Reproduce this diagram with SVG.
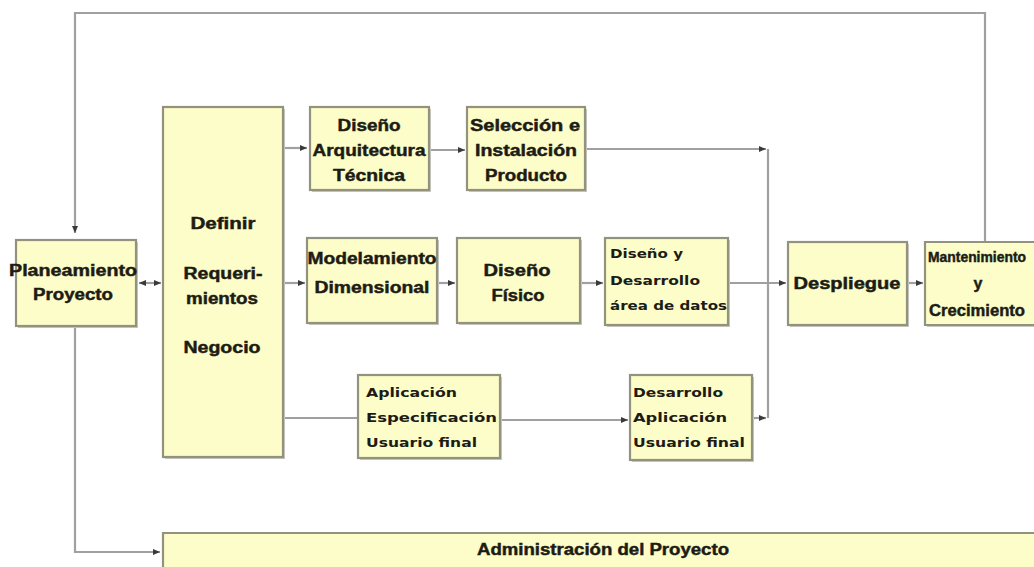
<svg xmlns="http://www.w3.org/2000/svg" width="1034" height="567" viewBox="0 0 1034 567">
  <defs>
    <marker id="arrow" viewBox="0 0 7 7" refX="7" refY="3.5" markerWidth="7" markerHeight="7" markerUnits="userSpaceOnUse" orient="auto-start-reverse">
      <path d="M0,0.5 L7,3.5 L0,6.5 z" fill="#3a3a3a"/>
    </marker>
  </defs>
  <style>
    .box { fill: #fdfdc9; stroke: #92927f; stroke-width: 2.2; }
    .fill { fill: #fdfdc9; }
    .edge { fill: none; stroke: #92927f; stroke-width: 2.2; }
    .shadow { fill: #c9c9c2; }
    .link { fill: none; stroke: #a0a0a0; stroke-width: 2.2; }
    .t { font-family: "Liberation Sans", Arial, sans-serif; font-weight: bold; font-size: 16px; fill: #1c1c14; stroke: #1c1c14; stroke-width: 0.45; text-anchor: middle; }
    .t.narrow { font-size: 14px; }
    .m { font-family: "DejaVu Sans", "Liberation Sans", sans-serif; font-weight: bold; font-size: 13px; fill: #1c1c14; }
  </style>
  <rect width="1034" height="567" fill="#ffffff"/>

  <!-- connectors -->
  <g id="connectors">
    <path class="link" d="M985,242 V13 H75 V233" marker-end="url(#arrow)"/>
    <path class="link" d="M75,326 V552 H160" marker-end="url(#arrow)"/>
    <path class="link" d="M139,283 H161" marker-start="url(#arrow)" marker-end="url(#arrow)"/>
    <path class="link" d="M284,148 H307" marker-end="url(#arrow)"/>
    <path class="link" d="M284,283 H305" marker-end="url(#arrow)"/>
    <path class="link" d="M284,418 H358"/>
    <path class="link" d="M430,150 H465" marker-end="url(#arrow)"/>
    <path class="link" d="M586,149 H766" marker-end="url(#arrow)"/>
    <path class="link" d="M768,149 V418"/>
    <path class="link" d="M438,283 H455" marker-end="url(#arrow)"/>
    <path class="link" d="M581,283 H603" marker-end="url(#arrow)"/>
    <path class="link" d="M729,283 H786" marker-end="url(#arrow)"/>
    <path class="link" d="M501,420 H628" marker-end="url(#arrow)"/>
    <path class="link" d="M753,418 H766" marker-end="url(#arrow)"/>
    <path class="link" d="M908,283 H923" marker-end="url(#arrow)"/>
  </g>

  <g id="planeamiento">
    <rect class="shadow" x="18" y="242" width="120" height="86"/>
    <rect class="box" x="16" y="240" width="120" height="86"/>
    <text class="t" x="73" y="276" textLength="128" lengthAdjust="spacingAndGlyphs">Planeamiento</text>
    <text class="t" x="73" y="300" textLength="80" lengthAdjust="spacingAndGlyphs">Proyecto</text>
  </g>

  <g id="definir">
    <rect class="shadow" x="165" y="109" width="120" height="350"/>
    <rect class="box" x="163" y="107" width="120" height="350"/>
    <text class="t" x="223" y="229" textLength="65" lengthAdjust="spacingAndGlyphs">Definir</text>
    <text class="t" x="223" y="279" textLength="79" lengthAdjust="spacingAndGlyphs">Requeri-</text>
    <text class="t" x="222" y="304" textLength="72" lengthAdjust="spacingAndGlyphs">mientos</text>
    <text class="t" x="222" y="353" textLength="77" lengthAdjust="spacingAndGlyphs">Negocio</text>
  </g>

  <g id="diseno-arquitectura">
    <rect class="shadow" x="312" y="109" width="119" height="83"/>
    <rect class="box" x="310" y="107" width="119" height="83"/>
    <text class="t" x="369" y="131" textLength="63" lengthAdjust="spacingAndGlyphs">Diseño</text>
    <text class="t" x="369" y="156" textLength="113" lengthAdjust="spacingAndGlyphs">Arquitectura</text>
    <text class="t" x="369" y="181" textLength="72" lengthAdjust="spacingAndGlyphs">Técnica</text>
  </g>

  <g id="seleccion">
    <rect class="shadow" x="469" y="109" width="118" height="83"/>
    <rect class="box" x="467" y="107" width="118" height="83"/>
    <text class="t" x="525" y="131" textLength="110" lengthAdjust="spacingAndGlyphs">Selección e</text>
    <text class="t" x="526" y="156" textLength="102" lengthAdjust="spacingAndGlyphs">Instalación</text>
    <text class="t" x="526" y="181" textLength="82" lengthAdjust="spacingAndGlyphs">Producto</text>
  </g>

  <g id="modelamiento">
    <rect class="shadow" x="309" y="240" width="130" height="85"/>
    <rect class="box" x="307" y="238" width="130" height="85"/>
    <text class="t" x="372" y="264" textLength="129" lengthAdjust="spacingAndGlyphs">Modelamiento</text>
    <text class="t" x="372" y="293" textLength="115" lengthAdjust="spacingAndGlyphs">Dimensional</text>
  </g>

  <g id="diseno-fisico">
    <rect class="shadow" x="459" y="240" width="123" height="85"/>
    <rect class="box" x="457" y="238" width="123" height="85"/>
    <text class="t" x="517" y="276" textLength="67" lengthAdjust="spacingAndGlyphs">Diseño</text>
    <text class="t" x="518" y="301" textLength="53" lengthAdjust="spacingAndGlyphs">Físico</text>
  </g>

  <g id="diseno-desarrollo">
    <rect class="shadow" x="607" y="240" width="123" height="87"/>
    <rect class="box" x="605" y="238" width="123" height="87"/>
    <text class="m" x="610" y="258" textLength="73" lengthAdjust="spacingAndGlyphs">Diseño y</text>
    <text class="m" x="610" y="285" textLength="90" lengthAdjust="spacingAndGlyphs">Desarrollo</text>
    <text class="m" x="610" y="310" textLength="117" lengthAdjust="spacingAndGlyphs">área de datos</text>
  </g>

  <g id="aplicacion-especificacion">
    <rect class="shadow" x="360" y="377" width="142" height="83"/>
    <rect class="box" x="358" y="375" width="142" height="83"/>
    <text class="m" x="366" y="397" textLength="91" lengthAdjust="spacingAndGlyphs">Aplicación</text>
    <text class="m" x="366" y="422" textLength="131" lengthAdjust="spacingAndGlyphs">Especificación</text>
    <text class="m" x="366" y="447" textLength="111" lengthAdjust="spacingAndGlyphs">Usuario final</text>
  </g>

  <g id="desarrollo-aplicacion">
    <rect class="shadow" x="632" y="377" width="122" height="85"/>
    <rect class="box" x="630" y="375" width="122" height="85"/>
    <text class="m" x="633" y="397" textLength="90" lengthAdjust="spacingAndGlyphs">Desarrollo</text>
    <text class="m" x="633" y="422" textLength="94" lengthAdjust="spacingAndGlyphs">Aplicación</text>
    <text class="m" x="633" y="447" textLength="112" lengthAdjust="spacingAndGlyphs">Usuario final</text>
  </g>

  <g id="despliegue">
    <rect class="shadow" x="790" y="244" width="119" height="83"/>
    <rect class="box" x="788" y="242" width="119" height="83"/>
    <text class="t" x="847" y="289" textLength="107" lengthAdjust="spacingAndGlyphs">Despliegue</text>
  </g>

  <!-- this box runs off the right side, so it is drawn open on that side -->
  <g id="mantenimiento">
    <rect class="shadow" x="927" y="244" width="107" height="83"/>
    <rect class="fill" x="925" y="242" width="109" height="83"/>
    <path class="edge" d="M1034,242 H925 V325 H1034"/>
    <text class="t narrow" x="977" y="262" textLength="98" lengthAdjust="spacingAndGlyphs">Mantenimiento</text>
    <text class="t" x="978" y="289">y</text>
    <text class="t" x="977" y="316" textLength="96" lengthAdjust="spacingAndGlyphs">Crecimiento</text>
  </g>

  <g id="administracion">
    <rect class="shadow" x="165" y="535" width="869" height="32"/>
    <rect class="fill" x="163" y="533" width="871" height="34"/>
    <path class="edge" d="M1034,533 H163 V567"/>
    <text class="t" x="603" y="555" textLength="252" lengthAdjust="spacingAndGlyphs">Administración del Proyecto</text>
  </g>
</svg>
